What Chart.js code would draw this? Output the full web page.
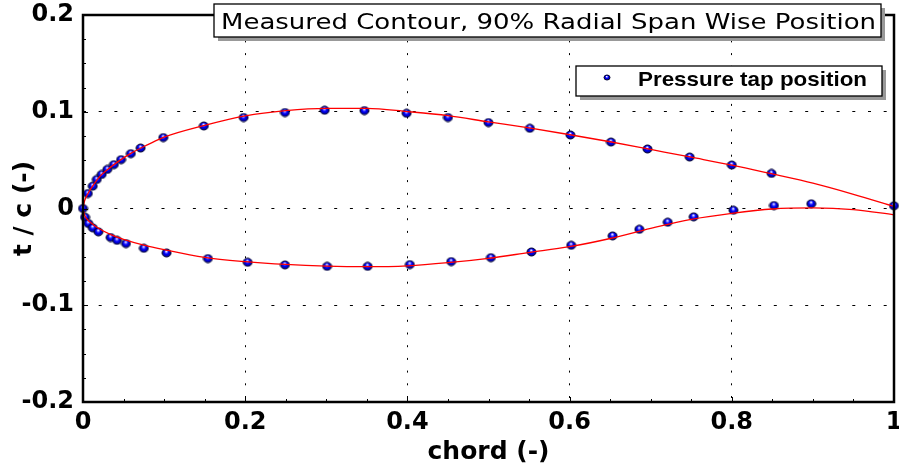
<!DOCTYPE html>
<html>
<head>
<meta charset="utf-8">
<title>Measured Contour</title>
<script src="https://cdn.jsdelivr.net/npm/chart.js@4.4.1/dist/chart.umd.min.js"></script>
<style>
  html, body { margin: 0; padding: 0; background: #fff; }
  #wrap { width: 899px; height: 470px; }
</style>
</head>
<body>
<div id="wrap"><canvas id="airfoil" width="899" height="470"></canvas></div>
<script>
// pressure taps, suction side (chord, t/c)
const upperTapX = [0, 0.006, 0.012, 0.017, 0.023, 0.030, 0.038, 0.047, 0.059, 0.071, 0.099, 0.149, 0.198, 0.249,
  0.298, 0.347, 0.399, 0.450, 0.500, 0.551, 0.601, 0.651, 0.696, 0.748, 0.800, 0.849, 1.000];
const upperTapY = [0, 0.0155, 0.0231, 0.0300, 0.0352, 0.0404, 0.0453, 0.0505, 0.0567, 0.0625, 0.0733, 0.0853, 0.0940, 0.0992,
  0.1016, 0.1012, 0.0984, 0.0940, 0.0888, 0.0829, 0.0760, 0.0687, 0.0615, 0.0532, 0.0449, 0.0363, 0.0028];

// pressure taps, pressure side
const lowerTapX = [0.0025, 0.0065, 0.012, 0.019, 0.034, 0.042, 0.053, 0.075, 0.103, 0.154, 0.203, 0.249, 0.301,
  0.351, 0.403, 0.454, 0.503, 0.553, 0.602, 0.653, 0.686, 0.721, 0.753, 0.802, 0.852, 0.898];
const lowerTapY = [-0.0090, -0.0155, -0.0200, -0.0241, -0.0300, -0.0329, -0.0363, -0.0411, -0.0459, -0.0518, -0.0556, -0.0583, -0.0598,
  -0.0598, -0.0580, -0.0549, -0.0508, -0.0449, -0.0380, -0.0283, -0.0215, -0.0142, -0.0086, -0.0018, 0.0031, 0.0049];

// measured contour (red line)
const upperCurveX = [0, 0.002, 0.006, 0.012, 0.02, 0.03, 0.045, 0.06, 0.08, 0.1, 0.15, 0.2, 0.25, 0.3, 0.35,
  0.4, 0.45, 0.5, 0.55, 0.6, 0.65, 0.7, 0.75, 0.8, 0.85, 0.9, 0.95, 1.0];
const upperCurveY = [0, 0.0080, 0.0153, 0.0233, 0.0325, 0.0401, 0.0495, 0.0575, 0.0660, 0.0738, 0.0860, 0.0958, 0.1012, 0.1035, 0.1035,
  0.1002, 0.0960, 0.0895, 0.0833, 0.0763, 0.0690, 0.0610, 0.0530, 0.0449, 0.0357, 0.0262, 0.0147, 0.0022];
const lowerCurveX = [0, 0.002, 0.005, 0.01, 0.02, 0.035, 0.05, 0.075, 0.1, 0.15, 0.2, 0.25, 0.3, 0.35,
  0.4, 0.45, 0.5, 0.55, 0.6, 0.65, 0.7, 0.75, 0.8, 0.85, 0.9, 0.95, 1.0];
const lowerCurveY = [0, -0.0070, -0.0110, -0.0150, -0.0210, -0.0272, -0.0318, -0.0378, -0.0425, -0.0505, -0.0549, -0.0578, -0.0595, -0.0601,
  -0.0592, -0.0560, -0.0515, -0.0455, -0.0395, -0.0310, -0.0205, -0.0112, -0.0050, -0.0005, 0.0006, -0.0012, -0.0065];

const xTickValues = [0, 0.2, 0.4, 0.6, 0.8, 1];
const yTickValues = [-0.2, -0.1, 0, 0.1, 0.2];
const xMinorStep = 0.05;
const yMinorStep = 0.025;

const titleText = 'Measured Contour, 90% Radial Span Wise Position';
const legendText = 'Pressure tap position';

function zip(xs, ys) {
  return xs.map((x, i) => ({ x: x, y: ys[i] }));
}

function fmt(v) {
  if (Math.abs(v) < 1e-9) return '0';
  return String(Math.round(v * 10) / 10);
}

// little shaded blue ball like the original marker
function makeTapMarker(w, h) {
  const c = document.createElement('canvas');
  c.width = w + 2;
  c.height = h + 2;
  const g = c.getContext('2d');
  const cx = c.width / 2, cy = c.height / 2;
  const grad = g.createRadialGradient(cx - 0.3, cy - h * 0.22, 0.2, cx, cy, w / 2);
  grad.addColorStop(0, '#ffffff');
  grad.addColorStop(0.22, '#7a7aff');
  grad.addColorStop(0.45, '#0000ff');
  grad.addColorStop(1, '#000080');
  g.fillStyle = grad;
  g.beginPath();
  g.ellipse(cx, cy, w / 2, h / 2, 0, 0, Math.PI * 2);
  g.fill();
  g.strokeStyle = '#000030';
  g.lineWidth = 1;
  g.stroke();
  return c;
}

const tapMarker = makeTapMarker(9, 8);
const legendMarker = makeTapMarker(6, 5);

const tickFont = { family: 'DejaVu Sans', weight: 'bold', size: 24 };
const titleFont = { family: 'DejaVu Sans', weight: 'bold', size: 25 };

// inward tick marks, frame, title box, legend box
const decorations = {
  id: 'decorations',
  afterDraw(chart) {
    const ctx = chart.ctx;
    const a = chart.chartArea;
    const xs = chart.scales.x, ys = chart.scales.y;
    ctx.save();
    ctx.strokeStyle = '#000';
    ctx.lineWidth = 1;
    for (let k = 0; k * xMinorStep <= 1 + 1e-9; k++) {
      const px = Math.round(xs.getPixelForValue(k * xMinorStep)) + 0.5;
      const len = k % 4 === 0 ? 5 : 3;
      ctx.beginPath();
      ctx.moveTo(px, a.bottom);
      ctx.lineTo(px, a.bottom - len);
      ctx.stroke();
    }
    for (let k = 0; -0.2 + k * yMinorStep <= 0.2 + 1e-9; k++) {
      const py = Math.round(ys.getPixelForValue(-0.2 + k * yMinorStep)) + 0.5;
      const len = k % 4 === 0 ? 5 : 3;
      ctx.beginPath();
      ctx.moveTo(a.left, py);
      ctx.lineTo(a.left + len, py);
      ctx.stroke();
    }

    // frame
    ctx.lineWidth = 2.5;
    ctx.strokeRect(a.left, a.top, a.right - a.left, a.bottom - a.top);

    // title box
    const tb = { x: a.left + 131, y: 4, w: 667, h: 33 };
    ctx.fillStyle = '#999';
    ctx.fillRect(tb.x + 4, tb.y + 4, tb.w, tb.h);
    ctx.fillStyle = '#fff';
    ctx.fillRect(tb.x, tb.y, tb.w, tb.h);
    ctx.lineWidth = 1.3;
    ctx.strokeRect(tb.x, tb.y, tb.w, tb.h);
    ctx.font = '21px "DejaVu Sans"';
    ctx.fillStyle = '#000';
    ctx.textBaseline = 'alphabetic';
    let tw = ctx.measureText(titleText).width;
    ctx.save();
    ctx.translate(tb.x + 7, tb.y + 24.5);
    ctx.scale(655 / tw, 1);
    ctx.fillText(titleText, 0, 0);
    ctx.restore();

    // legend box
    const lb = { x: a.right - 318, y: a.top + 51, w: 306, h: 30 };
    ctx.fillStyle = '#999';
    ctx.fillRect(lb.x + 4, lb.y + 4, lb.w, lb.h);
    ctx.fillStyle = '#fff';
    ctx.fillRect(lb.x, lb.y, lb.w, lb.h);
    ctx.lineWidth = 1.3;
    ctx.strokeRect(lb.x, lb.y, lb.w, lb.h);
    ctx.drawImage(legendMarker, lb.x + 31 - legendMarker.width / 2, lb.y + 11.5 - legendMarker.height / 2);
    ctx.font = 'bold 21px "Liberation Sans", Arial, sans-serif';
    ctx.fillStyle = '#000';
    tw = ctx.measureText(legendText).width;
    ctx.save();
    ctx.translate(lb.x + 62, lb.y + 20);
    ctx.scale(229 / tw, 1);
    ctx.fillText(legendText, 0, 0);
    ctx.restore();
    ctx.restore();
  }
};

const chart = new Chart(document.getElementById('airfoil'), {
  type: 'scatter',
  data: {
    datasets: [
      {
        label: 'contour upper',
        data: zip(upperCurveX, upperCurveY),
        showLine: true,
        borderColor: '#ff0000',
        borderWidth: 1.3,
        pointRadius: 0,
        cubicInterpolationMode: 'monotone',
        fill: false
      },
      {
        label: 'contour lower',
        data: zip(lowerCurveX, lowerCurveY),
        showLine: true,
        borderColor: '#ff0000',
        borderWidth: 1.3,
        pointRadius: 0,
        cubicInterpolationMode: 'monotone',
        fill: false
      },
      {
        label: legendText,
        data: zip(upperTapX, upperTapY).concat(zip(lowerTapX, lowerTapY)),
        pointStyle: tapMarker,
        pointRadius: 4,
        showLine: false,
        clip: false
      }
    ]
  },
  options: {
    responsive: false,
    animation: false,
    layout: { padding: { top: 15, right: 3, left: 0, bottom: 0 } },
    plugins: {
      legend: { display: false },
      tooltip: { enabled: false }
    },
    scales: {
      x: {
        type: 'linear',
        min: 0,
        max: 1,
        afterBuildTicks: (s) => { s.ticks = xTickValues.map((v) => ({ value: v })); },
        afterFit: (s) => { s.height = 68; s.paddingLeft = 0; s.paddingRight = 0; },
        ticks: { font: tickFont, color: '#000', padding: 6, maxRotation: 0, autoSkip: false, callback: fmt },
        grid: { color: '#000', lineWidth: 1, drawTicks: false, borderDash: [2, 10.7] },
        border: { display: false, dash: [2, 10.7] },
        title: { display: true, text: 'chord (-)', font: titleFont, color: '#000', padding: { top: 0, bottom: 3 } }
      },
      y: {
        type: 'linear',
        min: -0.2,
        max: 0.2,
        afterBuildTicks: (s) => { s.ticks = yTickValues.map((v) => ({ value: v })); },
        afterFit: (s) => { s.width = 83; s.paddingTop = 0; s.paddingBottom = 0; },
        ticks: { font: tickFont, color: '#000', padding: 9, autoSkip: false, callback: fmt },
        grid: { color: '#000', lineWidth: 1, drawTicks: false, borderDash: [3, 12.7] },
        border: { display: false, dash: [3, 12.7] },
        title: { display: true, text: 't / c (-)', font: titleFont, color: '#000', padding: { top: 9, bottom: 0 } }
      }
    }
  },
  plugins: [decorations]
});
</script>
</body>
</html>
